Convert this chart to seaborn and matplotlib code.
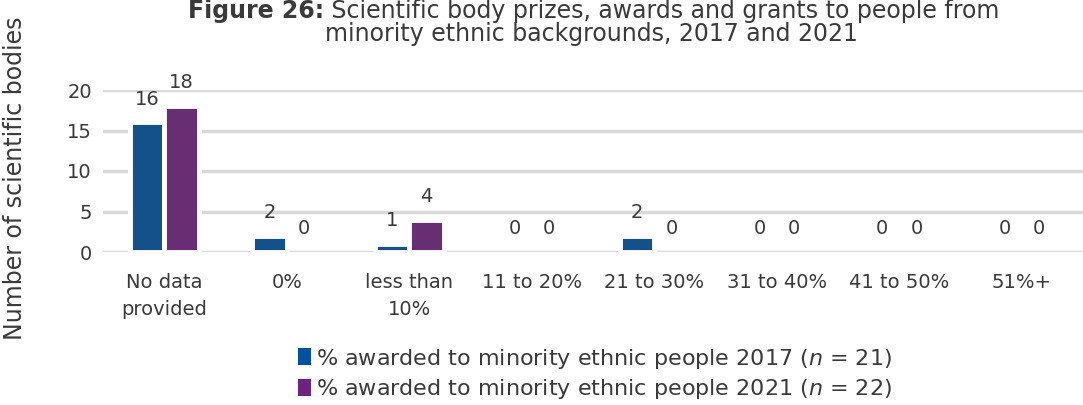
import matplotlib
matplotlib.use("Agg")
import matplotlib.pyplot as plt
import seaborn as sns
import pandas as pd
from matplotlib.patches import Patch

categories = ["No data\nprovided", "0%", "less than\n10%", "11 to 20%", "21 to 30%",
              "31 to 40%", "41 to 50%", "51%+"]
values_2017 = [16, 2, 1, 0, 2, 0, 0, 0]
values_2021 = [18, 0, 4, 0, 0, 0, 0, 0]
series_labels = ["% awarded to minority ethnic people 2017 ($\\it{n}$ = 21)",
                 "% awarded to minority ethnic people 2021 ($\\it{n}$ = 22)"]
colors = ["#00529F", "#6F2280"]

sns.set_theme(style="white")
plt.rcParams['font.family'] = ['DejaVu Sans']
plt.rcParams['mathtext.fontset'] = 'dejavusans'
txt = "#3a3a3a"

df = pd.DataFrame({
    "category": categories * 2,
    "value": values_2017 + values_2021,
    "series": [series_labels[0]] * len(categories) + [series_labels[1]] * len(categories),
})

fig = plt.figure(figsize=(10.83, 4.05), dpi=100)
ax = fig.add_axes([103 / 1083, (405 - 252) / 405, (1083 - 103) / 1083, (252 - 90) / 405])
sns.barplot(data=df, x="category", y="value", hue="series", palette=colors,
            width=0.56, edgecolor="white", linewidth=3.5, ax=ax, legend=False)

for cont in ax.containers:
    for bar in cont:
        if bar.get_height() == 0:
            bar.set_linewidth(0)

ax.set_ylim(0, 20)
ax.set_yticks([0, 5, 10, 15, 20])
ax.yaxis.grid(True, color="#D9D9D9", linewidth=2.5)
ax.set_axisbelow(True)
for s in ax.spines.values():
    s.set_visible(False)
ax.tick_params(axis="both", length=0, labelsize=14, colors=txt)
ax.tick_params(axis="x", pad=15)
ax.tick_params(axis="y", pad=8)
for lab in ax.get_xticklabels():
    lab.set_linespacing(1.55)
ax.set_xlabel("")
ax.set_ylabel("")
fig.text(15 / 1083, 1 - 178 / 405, "Number of scientific bodies", rotation=90, ha="center",
         va="center", fontsize=17, color=txt)

for cont in ax.containers:
    for bar in cont:
        h = bar.get_height()
        ax.annotate(f"{int(h)}", (bar.get_x() + bar.get_width() / 2, h),
                    xytext=(0, 10), textcoords="offset points", ha="center",
                    va="bottom", fontsize=14, color=txt, annotation_clip=False)

# Title
renderer = fig.canvas.get_renderer()
y1 = 1 - 11 / 405
bold = fig.text(0, y1, "Figure 26:", fontsize=17, fontweight="bold", color=txt, va="center")
rest = fig.text(0, y1, " Scientific body prizes, awards and grants to people from",
                fontsize=17, color=txt, va="center")
wb = bold.get_window_extent(renderer).width
wr = rest.get_window_extent(renderer).width
x0 = (594 - (wb + wr) / 2)
bold.set_x(x0 / 1083)
rest.set_x((x0 + wb) / 1083)
fig.text(591 / 1083, 1 - 34 / 405, "minority ethnic backgrounds, 2017 and 2021",
         fontsize=17, color=txt, ha="center", va="center")

handles = [Patch(facecolor=c, edgecolor="none") for c in colors]
fig.legend(handles, series_labels, loc="center", bbox_to_anchor=(595 / 1083, 1 - 374 / 405),
           ncol=1, frameon=False, fontsize=16, labelcolor=txt, handlelength=0.6,
           handleheight=0.8, handletextpad=0.2, labelspacing=0.3)

fig.savefig("out.png", dpi=100)
